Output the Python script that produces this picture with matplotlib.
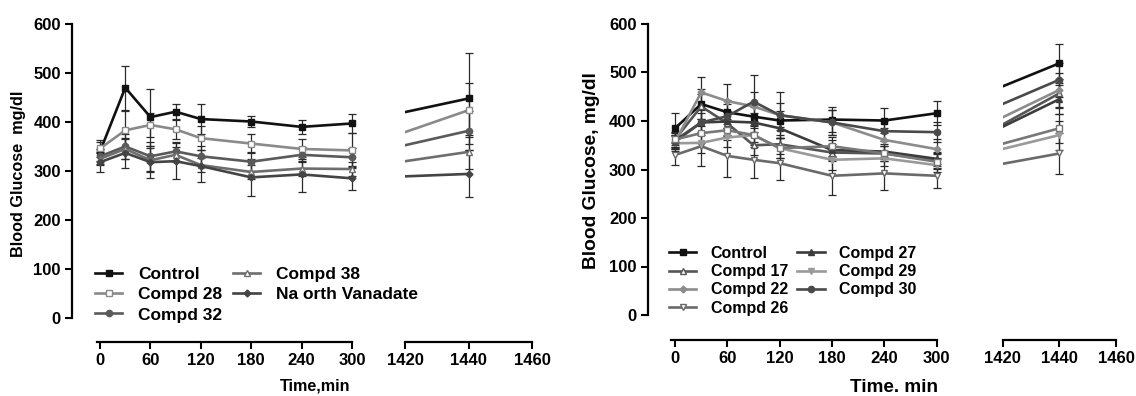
# Blood glucose time course, two panels with a broken time axis (0-300 min | 1420-1460 min)
import matplotlib.pyplot as plt
import numpy as np

plt.rcParams['font.family'] = ['Liberation Sans', 'DejaVu Sans']
plt.rcParams['font.weight'] = 'bold'

time = [0, 30, 60, 90, 120, 180, 240, 300, 1440]
early_ticks = [0, 60, 120, 180, 240, 300]
late_ticks = [1420, 1440, 1460]
y_ticks = [0, 100, 200, 300, 400, 500, 600]

# left panel values (mean, error)
left_names = ['Control', 'Compd 28', 'Compd 32', 'Compd 38', 'Na orth Vanadate']
left_control = [340, 470, 410, 421, 406, 401, 390, 397, 448]
left_c28 = [346, 383, 394, 385, 367, 356, 345, 342, 424]
left_c32 = [330, 350, 330, 340, 330, 319, 333, 328, 382]
left_c38 = [325, 345, 322, 333, 312, 298, 305, 304, 339]
left_van = [318, 337, 318, 320, 310, 287, 293, 285, 294]
left_control_err = [20, 45, 58, 15, 30, 12, 14, 19, 92]
left_c28_err = [18, 40, 25, 20, 25, 20, 20, 35, 55]
left_c32_err = [15, 25, 30, 20, 20, 20, 15, 18, 40]
left_c38_err = [12, 20, 25, 15, 15, 15, 15, 15, 35]
left_van_err = [20, 30, 33, 37, 32, 37, 35, 23, 48]

# right panel values
right_names = ['Control', 'Compd 17', 'Compd 22', 'Compd 26', 'Compd 27', 'Compd 29', 'Compd 30', '_nolegend_']
right_control = [385, 435, 418, 409, 401, 403, 401, 416, 519]
right_c17 = [362, 430, 395, 350, 352, 335, 333, 318, 457]
right_c22 = [357, 459, 441, 430, 412, 397, 361, 342, 464]
right_c26 = [330, 348, 328, 320, 313, 287, 292, 287, 333]
right_c27 = [360, 397, 399, 397, 385, 340, 337, 322, 445]
right_c29 = [354, 355, 366, 371, 344, 320, 323, 309, 371]
right_c30 = [357, 397, 410, 440, 412, 397, 379, 377, 485]
right_extra = [362, 375, 381, 371, 344, 348, 333, 316, 385]
right_control_err = [31, 30, 25, 20, 20, 25, 25, 25, 40]
right_c17_err = [15, 25, 25, 20, 20, 18, 15, 15, 30]
right_c22_err = [15, 32, 36, 30, 48, 25, 25, 20, 35]
right_c26_err = [21, 41, 43, 37, 34, 39, 34, 25, 42]
right_c27_err = [15, 20, 20, 20, 20, 20, 15, 15, 30]
right_c29_err = [15, 20, 20, 25, 20, 20, 15, 15, 30]
right_c30_err = [15, 25, 25, 55, 25, 25, 20, 20, 35]
right_extra_err = [15, 20, 20, 20, 20, 20, 15, 15, 30]

left_means = [left_control, left_c28, left_c32, left_c38, left_van]
left_errs = [left_control_err, left_c28_err, left_c32_err, left_c38_err, left_van_err]
right_means = [right_control, right_c17, right_c22, right_c26, right_c27, right_c29, right_c30, right_extra]
right_errs = [right_control_err, right_c17_err, right_c22_err, right_c26_err, right_c27_err,
              right_c29_err, right_c30_err, right_extra_err]

# styles: (colour, marker, filled)
left_styles = [('#111111', 's', True), ('#8a8a8a', 's', False), ('#5a5a5a', 'o', True),
               ('#6e6e6e', '^', False), ('#444444', 'D', True)]
right_styles = [('#111111', 's', True), ('#555555', '^', False), ('#8c8c8c', 'D', True),
                ('#6a6a6a', 'v', False), ('#3c3c3c', '^', True), ('#9a9a9a', 'v', True),
                ('#4a4a4a', 'o', True), ('#777777', 's', False)]

W, H = 1136, 396
fig = plt.figure(figsize=(W / 100, H / 100), dpi=100)


def px_rect(x0, x1, ytop, ybot):
    # pixel box -> figure fraction
    return [x0 / W, 1 - ybot / H, (x1 - x0) / W, (ybot - ytop) / H]


def style_axis(ax, ticks, yoff, fs):
    ax.spines['top'].set_visible(False)
    ax.spines['right'].set_visible(False)
    ax.spines['bottom'].set_position(('outward', yoff))
    ax.spines['bottom'].set_linewidth(1.6)
    ax.spines['left'].set_linewidth(1.6)
    ax.set_xticks(ticks)
    ax.tick_params(axis='both', width=1.5, length=5, labelsize=fs, pad=3)
    ax.set_ylim(0, 600)
    ax.patch.set_alpha(0)


def draw_panel(main_box, brk_box, xmin, xoff, yoff, names, means, errs, styles):
    ax = fig.add_axes(main_box)
    axb = fig.add_axes(brk_box)
    ax.set_xlim(xmin, 300)
    axb.set_xlim(1420, 1460)
    style_axis(ax, early_ticks, yoff, 12)
    style_axis(axb, late_ticks, yoff, 12)
    ax.spines['left'].set_position(('outward', xoff))
    ax.set_yticks(y_ticks)
    axb.spines['left'].set_visible(False)
    axb.set_yticks([])

    handles = []
    for name, m, e, (c, mk, filled) in zip(names, means, errs, styles):
        face = c if filled else 'white'
        ms = 3.5 if mk == 'D' else 4.5
        eb = ax.errorbar(time[:8], m[:8], yerr=e[:8], color=c, marker=mk, mfc=face, mec=c, ms=ms,
                         lw=1.9, ecolor='#2a2a2a', elinewidth=0.9, capsize=3, capthick=0.9)
        for a in eb.get_children():
            a.set_clip_on(False)
        eb.lines[0].set_label(name)
        handles.append(eb.lines[0])
        eb2 = axb.errorbar([time[8]], [m[8]], yerr=[e[8]], color=c, marker=mk, mfc=face, mec=c,
                           ms=ms, ecolor='#2a2a2a', elinewidth=0.9, capsize=3, capthick=0.9)
        for a in eb2.get_children():
            a.set_clip_on(False)
        # the 300 -> 1440 line is straight on the page, only the part after the break shows
        disp = ax.transData.transform((time[7], m[7]))
        xr, yr = axb.transData.inverted().transform(disp)
        axb.plot([xr, time[8]], [yr, m[8]], color=c, lw=1.9)
    handles = [h for h in handles if not h.get_label().startswith('_')]
    return ax, handles


ax1, h1 = draw_panel(px_rect(96.7, 352, 24, 318), px_rect(405, 532, 24, 318), -4, 17.8, 17.3,
                     left_names, left_means, left_errs, left_styles)
ax2, h2 = draw_panel(px_rect(670.7, 936.7, 24, 315), px_rect(1002.7, 1116, 24, 315), -5, 16.6, 18,
                     right_names, right_means, right_errs, right_styles)

ax1.legend(handles=h1, loc='upper left', bbox_to_anchor=(86 / W, 1 - 258 / H),
           bbox_transform=fig.transFigure, ncol=2, frameon=False, fontsize=12.5, borderpad=0,
           handlelength=1.6, handletextpad=0.9, columnspacing=0.6, labelspacing=0.3)
ax2.legend(handles=h2, loc='upper left', bbox_to_anchor=(661 / W, 1 - 238 / H),
           bbox_transform=fig.transFigure, ncol=2, frameon=False, fontsize=11.5, borderpad=0,
           handlelength=1.7, handletextpad=0.9, columnspacing=0.6, labelspacing=0.2)

fig.text(19 / W, 1 - 174 / H, 'Blood Glucose  mg/dl', rotation=90, ha='center', va='center', fontsize=11.7)
fig.text(592 / W, 1 - 171 / H, 'Blood Glucose, mg/dl', rotation=90, ha='center', va='center', fontsize=13.8)
fig.text(315 / W, 1 - 386 / H, 'Time,min', ha='center', va='center', fontsize=11.6)
fig.text(894 / W, 1 - 387 / H, 'Time. min', ha='center', va='center', fontsize=13.6)

plt.savefig('out.png', dpi=100)
